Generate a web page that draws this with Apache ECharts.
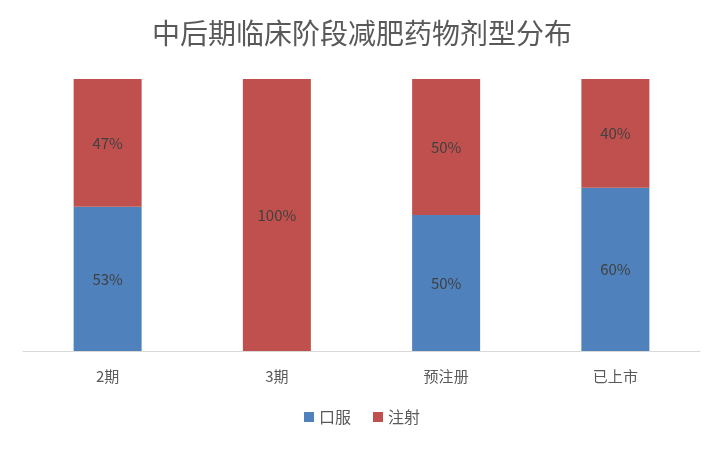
<!DOCTYPE html>
<html><head><meta charset="utf-8">
<script src="https://cdn.jsdelivr.net/npm/echarts@6/dist/echarts.min.js"></script>
<style>html,body{margin:0;background:#fff}#c{width:724px;height:450px}</style>
</head><body><div id="c"></div>
<script>
var categories = ['2期', '3期', '预注册', '已上市'];
var oral = [53, 0, 50, 60];
var injection = [47, 100, 50, 40];

var chart = echarts.init(document.getElementById('c'));
var lbl = {show: true, color: '#404040', fontSize: 15, fontFamily: 'Noto Sans CJK SC',
  formatter: function (p) { return p.value > 0 ? p.value + '%' : ''; }};
chart.setOption({
  animation: false,
  title: {text: '中后期临床阶段减肥药物剂型分布', left: 'center', top: 14,
    textStyle: {fontSize: 28, fontWeight: 'normal', color: '#595959', fontFamily: 'Noto Sans CJK SC'}},
  legend: {bottom: 20, itemWidth: 10, itemHeight: 10, itemGap: 22, icon: 'rect',
    textStyle: {fontSize: 16, color: '#595959', fontFamily: 'Noto Sans CJK SC'}},
  grid: {left: 23, right: 24, top: 79, bottom: 99},
  xAxis: {type: 'category', data: categories,
    axisLine: {lineStyle: {color: '#d9d9d9'}}, axisTick: {show: false},
    axisLabel: {fontSize: 15, color: '#595959', margin: 18, fontFamily: 'Noto Sans CJK SC'}},
  yAxis: {type: 'value', min: 0, max: 100, show: false},
  series: [
    {name: '口服', type: 'bar', stack: 'a', data: oral, barWidth: 68,
      itemStyle: {color: '#4F81BD'}, label: lbl},
    {name: '注射', type: 'bar', stack: 'a', data: injection, barWidth: 68,
      itemStyle: {color: '#C0504D'}, label: lbl}
  ]
});
</script></body></html>
